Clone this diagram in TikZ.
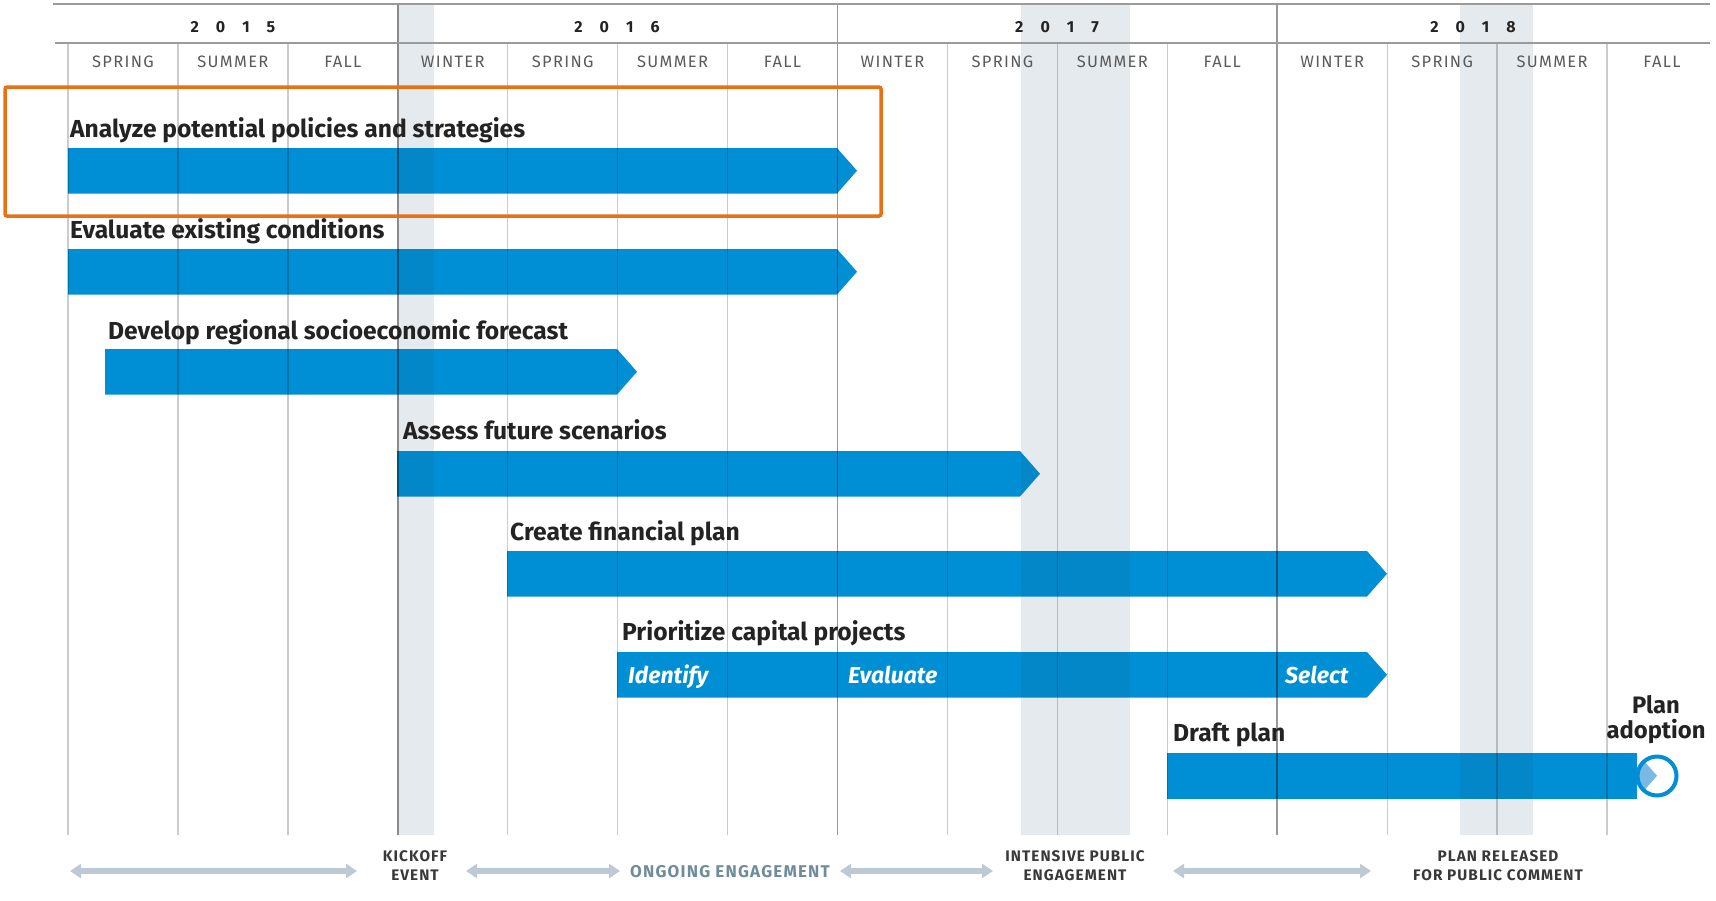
\documentclass[tikz,border=0pt]{standalone}
\usepackage{fontspec}
\setmainfont{Fira Sans}
\newfontfamily\semib{Fira Sans}
\newfontfamily\semibsp{Fira Sans}[LetterSpace=7]
\newfontfamily\lightf{Fira Sans}[LetterSpace=8]
\usetikzlibrary{arrows.meta}
\definecolor{barblue}{RGB}{0,143,213}
\definecolor{tipblue}{RGB}{122,185,228}
\definecolor{bandc}{RGB}{40,85,115}
\definecolor{orangec}{RGB}{232,113,20}
\definecolor{arrc}{RGB}{189,201,212}
\definecolor{txtdark}{RGB}{35,35,35}
\definecolor{seasonc}{RGB}{90,90,90}
\definecolor{ongoingc}{RGB}{110,140,156}
\definecolor{rulec}{RGB}{155,155,155}
\newcommand\yr[4]{#1\kern17pt#2\kern17pt#3\kern17pt#4}
\newcommand\gbar[3]{\fill[barblue] (#1,#3) -- (#2,#3) -- (#2+20,#3+22.75) -- (#2,#3+45.5) -- (#1,#3+45.5) -- cycle;}
\tikzset{
  lab/.style={font=\semib\bfseries\fontsize{24.6}{28}\selectfont, text=txtdark, inner sep=0pt, anchor=base west},
  phase/.style={font=\semib\bfseries\itshape\fontsize{23}{27}\selectfont, text=white, inner sep=0pt, anchor=base west},
  season/.style={font=\lightf\fontsize{16.5}{20}\selectfont, text=seasonc, inner sep=0pt, anchor=base},
  yearlab/.style={font=\semib\bfseries\fontsize{16}{20}\selectfont, text=txtdark, inner sep=0pt, anchor=base},
  botlab/.style={font=\semibsp\bfseries\fontsize{15.3}{19}\selectfont, text=txtdark!90, inner sep=0pt, anchor=base},
  botarrow/.style={draw=arrc, line width=6pt, {Triangle[length=11pt,width=14pt]}-{Triangle[length=11pt,width=14pt]}},
  band/.style={fill=bandc, fill opacity=0.12},
  gridline/.style={draw=black, draw opacity=0.2, line width=1.3pt},
  yearline/.style={draw=black, draw opacity=0.4, line width=1.8pt}
}
\begin{document}
\begin{tikzpicture}[x=1pt,y=-1pt]
\useasboundingbox (0,0) rectangle (1716,900);
% bars
\gbar{68}{837}{148}
\gbar{68}{837}{249}
\gbar{105}{617}{349}
\gbar{397}{1020}{451}
\gbar{507}{1367}{551}
\gbar{617}{1367}{652}
\fill[barblue] (1167,753) rectangle (1637,798.5);
% bands
\fill[band] (397,4) rectangle (434,835);
\fill[band] (1021,4) rectangle (1130,835);
\fill[band] (1460,4) rectangle (1533,835);
% grid lines
\foreach \k in {0,1,2,4,5,6,8,9,10,12,13,14}
  \draw[gridline] ({68+109.93*\k},43) -- ({68+109.93*\k},835);
\foreach \k in {3,7,11}
  \draw[yearline] ({68+109.93*\k},4) -- ({68+109.93*\k},835);
\draw[rulec, line width=2.5pt] (53,4) -- (1710,4);
\draw[rulec, line width=1.8pt] (55,43) -- (1710,43);
% end circle
\fill[white] (1657,776) circle (19.5);
\begin{scope}
  \clip (1657,776) circle (19.5);
  \fill[tipblue] (1630,753) -- (1637,753) -- (1657,775.75) -- (1637,798.5) -- (1630,798.5) -- cycle;
\end{scope}
\draw[barblue, line width=4pt] (1657,776) circle (19.5);
% year labels
\node[yearlab] (y15) at (233,32) {\yr 2015};
\node[yearlab] (y16) at (617,32) {\yr 2016};
\node[yearlab] (y17) at (1057,32) {\yr 2017};
\node[yearlab] (y18) at (1473,32) {\yr 2018};
% season labels
\foreach \s [count=\i from 0] in {SPRING,SUMMER,FALL,WINTER,SPRING,SUMMER,FALL,WINTER,SPRING,SUMMER,FALL,WINTER,SPRING,SUMMER,FALL}
  \node[season] (s\i) at ({68+109.93*(\i+0.5)},67) {\s};
% bar labels
\node[lab] (l1) at (70,137) {Analyze potential policies and strategies};
\node[lab] (l2) at (70,238) {Evaluate existing conditions};
\node[lab] (l3) at (108,339) {Develop regional socioeconomic forecast};
\node[lab] (l4) at (403,439) {Assess future scenarios};
\node[lab] (l5) at (510,540) {Create financial plan};
\node[lab] (l6) at (622,640) {Prioritize capital projects};
\node[lab] (l7) at (1173,741) {Draft plan};
\node[phase] (p1) at (628,683) {Identify};
\node[phase] (p2) at (848,683) {Evaluate};
\node[phase] (p3) at (1285,683) {Select};
\node[lab, anchor=base, font=\semib\bfseries\fontsize{23.8}{28}\selectfont] (pa1) at (1656,713) {Plan};
\node[lab, anchor=base, font=\semib\bfseries\fontsize{23.8}{28}\selectfont] (pa2) at (1656,738) {adoption};
% bottom labels
\node[botlab] (k1) at (415,861) {KICKOFF};
\node[botlab] (k2) at (415,880) {EVENT};
\node[botlab, font=\semibsp\bfseries\fontsize{17}{20}\selectfont, text=ongoingc] (og) at (730,877) {ONGOING ENGAGEMENT};
\node[botlab] (i1) at (1075,861) {INTENSIVE PUBLIC};
\node[botlab] (i2) at (1075,880) {ENGAGEMENT};
\node[botlab] (r1) at (1498,861) {PLAN RELEASED};
\node[botlab] (r2) at (1498,880) {FOR PUBLIC COMMENT};
% bottom arrows
\coordinate (a1s) at (70,871); \coordinate (a1e) at (357,871);
\coordinate (a2s) at (466,871); \coordinate (a2e) at (620,871);
\coordinate (a3s) at (840,871); \coordinate (a3e) at (993,871);
\coordinate (a4s) at (1173,871); \coordinate (a4e) at (1371,871);
\draw[botarrow] (a1s) -- (a1e);
\draw[botarrow] (a2s) -- (a2e);
\draw[botarrow] (a3s) -- (a3e);
\draw[botarrow] (a4s) -- (a4e);
% highlight box
\draw[orangec, line width=3.5pt, rounded corners=2pt] (5,87) rectangle (881,216);
\end{tikzpicture}
\end{document}
